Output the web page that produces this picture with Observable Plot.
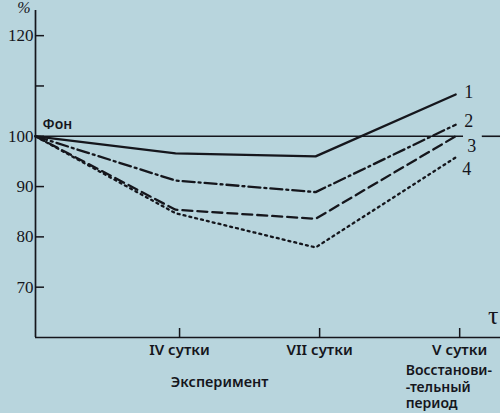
<!DOCTYPE html>
<html>
<head>
<meta charset="utf-8">
<script src="https://cdn.jsdelivr.net/npm/d3@7"></script>
<script src="https://cdn.jsdelivr.net/npm/@observablehq/plot@0.6"></script>
<style>
  html, body { margin: 0; padding: 0; background: #b8d5dd; }
  #chart svg { display: block; }
</style>
</head>
<body>
<div id="chart"></div>
<script>
// positions: 0 = Фон, 1 = IV сутки, 2 = VII сутки, 3 = V сутки (восстановительный период)
const stages = [0, 1, 2, 3];
const stageLabels = ["IV сутки", "VII сутки", "V сутки"];
const yTicks = [70, 80, 90, 100, 110, 120];
const yTickLabels = ["70", "80", "90", "100", "", "120"];
const seriesNames = ["1", "2", "3", "4"];
const series1 = [100, 96.6, 96.0, 108.3];
const series2 = [100, 91.2, 88.9, 102.3];
const series3 = [100, 85.4, 83.6, 100.0];
const series4 = [100, 84.7, 77.9, 95.8];
const baselineSegments = [[0, 3.056], [3.19, 3.32]];
const recoveryLines = ["Восстанови-", "-тельный", "период"];

const allSeries = [series1, series2, series3, series4];
const rows = allSeries.flatMap((vals, si) =>
  stages.map((s, i) => ({ series: seriesNames[si], x: s, y: vals[i] })));
const ends = allSeries.map((vals, si) => ({ name: seriesNames[si], x: 3, y: vals[3] }));
const dashes = ["none", "12,4,2,4", "10,5", "2,4"];
const labelDx = { "1": 13, "2": 13, "3": 16, "4": 11 };
const labelDy = { "1": -2, "2": -3, "3": 10, "4": 12 };
const ink = "#15161c";
const serif = "Liberation Serif, DejaVu Serif, serif";
const sans = "Noto Sans, DejaVu Sans, sans-serif";

const marks = [
  Plot.ruleX([0], { stroke: ink, strokeWidth: 1.7 }),
  Plot.ruleY([60], { stroke: ink, strokeWidth: 1.7 }),
  Plot.ruleY(baselineSegments, { y: () => 100, x1: d => d[0], x2: d => d[1], stroke: ink, strokeWidth: 1.6 }),
  Plot.axisY(yTicks, {
    anchor: "left", label: null, tickSize: -9, tickPadding: 11, stroke: ink, strokeWidth: 1.5,
    tickFormat: (d) => yTickLabels[yTicks.indexOf(d)],
    fontFamily: serif, fontSize: 17, fill: ink
  }),
  Plot.axisX([1, 2, 3], {
    anchor: "bottom", label: null, tickSize: -9, tickPadding: 16, stroke: ink, strokeWidth: 1.5,
    tickFormat: (d) => stageLabels[d - 1], dx: 4,
    fontFamily: sans, fontSize: 15, fontWeight: 600, fill: ink
  }),
  ...seriesNames.map((name, i) =>
    Plot.line(rows.filter(r => r.series === name), {
      x: "x", y: "y", stroke: ink, strokeWidth: 2.3, strokeDasharray: dashes[i]
    })),
  ...ends.map(e => Plot.text([e], {
    x: "x", y: "y", text: "name", textAnchor: "middle",
    dx: labelDx[e.name], dy: labelDy[e.name],
    fontFamily: serif, fontSize: 18, fill: ink
  })),
  Plot.text(["Фон"], { x: 0, y: 100, text: d => d, textAnchor: "start", dx: 7, dy: -12, fontFamily: sans, fontWeight: 600, fontSize: 14, fill: ink }),
  Plot.text(["%"], { x: 0, y: 125, text: d => d, textAnchor: "end", lineAnchor: "top", dx: -5, dy: -9, fontFamily: serif, fontStyle: "italic", fontSize: 16, fill: ink }),
  Plot.text(["τ"], { x: 3.32, y: 60, text: d => d, textAnchor: "end", dx: -2, dy: -22, fontFamily: serif, fontSize: 26, fill: ink }),
  Plot.text(["Эксперимент"], { x: 1.5, y: 60, text: d => d, dx: -26, dy: 45, fontFamily: sans, fontWeight: 600, fontSize: 14.5, fill: ink }),
  Plot.text([recoveryLines.join("\n")], { x: 3, y: 60, text: d => d, textAnchor: "start", lineAnchor: "top", lineHeight: 1.17, dx: -50, dy: 26, fontFamily: sans, fontWeight: 600, fontSize: 14, fill: ink })
];

const chart = Plot.plot({
  width: 500, height: 413,
  marginLeft: 35, marginRight: 0, marginTop: 10, marginBottom: 76,
  x: { domain: [0, 3.32], axis: null },
  y: { domain: [60, 125], axis: null },
  style: { background: "#b8d5dd", color: ink, overflow: "visible" },
  marks
});
document.getElementById("chart").append(chart);
</script>
</body>
</html>
